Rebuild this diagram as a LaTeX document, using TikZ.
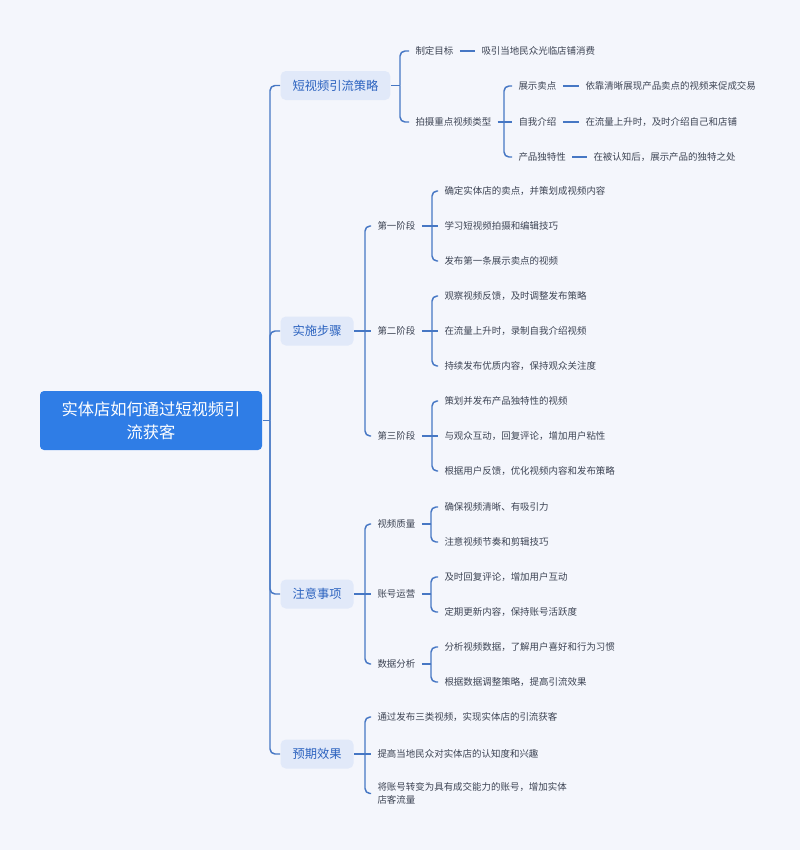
\documentclass[tikz,border=0pt]{standalone}
\usepackage{fontspec}
\setmainfont{Noto Sans CJK SC}

\definecolor{bgcol}{HTML}{F4F6FC}
\definecolor{linkcol}{HTML}{4677C4}
\definecolor{rootcol}{HTML}{2F7DE6}
\definecolor{topicfill}{HTML}{E1E9F9}
\definecolor{topictext}{HTML}{2B62BF}
\definecolor{leafcol}{HTML}{3D4454}

\tikzset{every picture/.style={line width=0.75pt}}
\tikzset{
  rootbox/.style={fill=rootcol, text=white, rounded corners=3pt, minimum width=166.5pt, minimum height=44.25pt, align=center, inner sep=0pt, font=\fontsize{12.2}{17.25}\selectfont},
  topicbox/.style={anchor=west, fill=topicfill, text=topictext, rounded corners=4pt, minimum height=21.75pt, inner xsep=9pt, inner ysep=0pt, text height=8pt, text depth=1.2pt, font=\fontsize{9.2}{11}\selectfont},
  leaf/.style={anchor=west, text=leafcol, inner xsep=4.5pt, inner ysep=1pt, text height=6.1pt, text depth=1pt, font=\fontsize{7.1}{9.75}\selectfont},
  leafwrap/.style={anchor=west, text=leafcol, inner xsep=4.5pt, inner ysep=1pt, align=left, font=\fontsize{7.1}{9.75}\selectfont},
  link/.style={draw=linkcol, line width=1.1pt, rounded corners=3.75pt},
}

\begin{document}
\begin{tikzpicture}[x=0.75pt,y=0.75pt,yscale=-1,xscale=1]
\fill[bgcol] (0,0) rectangle (800,850);
\useasboundingbox (0,0) rectangle (800,850);

% Root Node
\node[rootbox] (root) at (151,420.5) {实体店如何通过短视频引\\流获客};

% Topic Nodes
\node[topicbox] (s1) at (280,85.5) {短视频引流策略};
\node[topicbox] (s2) at (280,331) {实施步骤};
\node[topicbox] (s3) at (280,594) {注意事项};
\node[topicbox] (s4) at (280,754) {预期效果};

% Text Node
\node[leaf] (a1) at (409,51) {制定目标};
\node[leaf] (a11) at (475,51) {吸引当地民众光临店铺消费};
\node[leaf] (a2) at (409,122) {拍摄重点视频类型};
\node[leaf] (b1) at (512,86) {展示卖点};
\node[leaf] (b11) at (579,86) {依靠清晰展现产品卖点的视频来促成交易};
\node[leaf] (b2) at (512,122) {自我介绍};
\node[leaf] (b21) at (579,122) {在流量上升时，及时介绍自己和店铺};
\node[leaf] (b3) at (512,157) {产品独特性};
\node[leaf] (b31) at (587,157) {在被认知后，展示产品的独特之处};

% Text Node
\node[leaf] (c1) at (371,226) {第一阶段};
\node[leaf] (c11) at (438,191) {确定实体店的卖点，并策划成视频内容};
\node[leaf] (c12) at (438,226) {学习短视频拍摄和编辑技巧};
\node[leaf] (c13) at (438,261) {发布第一条展示卖点的视频};
\node[leaf] (c2) at (371,331) {第二阶段};
\node[leaf] (c21) at (438,296) {观察视频反馈，及时调整发布策略};
\node[leaf] (c22) at (438,331) {在流量上升时，录制自我介绍视频};
\node[leaf] (c23) at (438,366) {持续发布优质内容，保持观众关注度};
\node[leaf] (c3) at (371,436) {第三阶段};
\node[leaf] (c31) at (438,401) {策划并发布产品独特性的视频};
\node[leaf] (c32) at (438,436) {与观众互动，回复评论，增加用户粘性};
\node[leaf] (c33) at (438,471) {根据用户反馈，优化视频内容和发布策略};

% Text Node
\node[leaf] (d1) at (371,524) {视频质量};
\node[leaf] (d11) at (438,507) {确保视频清晰、有吸引力};
\node[leaf] (d12) at (438,542) {注意视频节奏和剪辑技巧};
\node[leaf] (d2) at (371,594) {账号运营};
\node[leaf] (d21) at (438,577) {及时回复评论，增加用户互动};
\node[leaf] (d22) at (438,612) {定期更新内容，保持账号活跃度};
\node[leaf] (d3) at (371,664) {数据分析};
\node[leaf] (d31) at (438,647) {分析视频数据，了解用户喜好和行为习惯};
\node[leaf] (d32) at (438,682) {根据数据调整策略，提高引流效果};

% Text Node
\node[leaf] (e1) at (371,717) {通过发布三类视频，实现实体店的引流获客};
\node[leaf] (e2) at (371,754) {提高当地民众对实体店的认知度和兴趣};
\node[leafwrap] (e3) at (371,793.5) {将账号转变为具有成交能力的账号，增加实体\\店客流量};

% Bracket points
\coordinate (trunk) at (270,420.5);
\coordinate (s1b) at (400,85.5);
\coordinate (a2b) at (504,122);
\coordinate (s2b) at (365,331);
\coordinate (c1b) at (432,226);
\coordinate (c2b) at (432,331);
\coordinate (c3b) at (432,436);
\coordinate (s3b) at (365,594);
\coordinate (d1b) at (431,524);
\coordinate (d2b) at (431,594);
\coordinate (d3b) at (431,664);
\coordinate (s4b) at (365,754);

%Straight Lines
\draw[link] (root.east) -- (trunk);
\draw[link] (trunk) |- (s1.west);
\draw[link] (trunk) |- (s2.west);
\draw[link] (trunk) |- (s3.west);
\draw[link] (trunk) |- (s4.west);

%Straight Lines
\draw[link] (s1.east) -- (s1b);
\draw[link] (s1b) |- (a1.west);
\draw[link] (s1b) |- (a2.west);
\draw[link] (a1.east) -- (a11.west);
\draw[link] (a2.east) -- (a2b);
\draw[link] (a2b) |- (b1.west);
\draw[link] (a2b) -- (b2.west);
\draw[link] (a2b) |- (b3.west);
\draw[link] (b1.east) -- (b11.west);
\draw[link] (b2.east) -- (b21.west);
\draw[link] (b3.east) -- (b31.west);

%Straight Lines
\draw[link] (s2.east) -- (s2b);
\draw[link] (s2b) |- (c1.west);
\draw[link] (s2b) -- (c2.west);
\draw[link] (s2b) |- (c3.west);
\draw[link] (c1.east) -- (c1b);
\draw[link] (c1b) |- (c11.west);
\draw[link] (c1b) -- (c12.west);
\draw[link] (c1b) |- (c13.west);
\draw[link] (c2.east) -- (c2b);
\draw[link] (c2b) |- (c21.west);
\draw[link] (c2b) -- (c22.west);
\draw[link] (c2b) |- (c23.west);
\draw[link] (c3.east) -- (c3b);
\draw[link] (c3b) |- (c31.west);
\draw[link] (c3b) -- (c32.west);
\draw[link] (c3b) |- (c33.west);

%Straight Lines
\draw[link] (s3.east) -- (s3b);
\draw[link] (s3b) |- (d1.west);
\draw[link] (s3b) -- (d2.west);
\draw[link] (s3b) |- (d3.west);
\draw[link] (d1.east) -- (d1b);
\draw[link] (d1b) |- (d11.west);
\draw[link] (d1b) |- (d12.west);
\draw[link] (d2.east) -- (d2b);
\draw[link] (d2b) |- (d21.west);
\draw[link] (d2b) |- (d22.west);
\draw[link] (d3.east) -- (d3b);
\draw[link] (d3b) |- (d31.west);
\draw[link] (d3b) |- (d32.west);

%Straight Lines
\draw[link] (s4.east) -- (s4b);
\draw[link] (s4b) |- (e1.west);
\draw[link] (s4b) -- (e2.west);
\draw[link] (s4b) |- (e3.west);

\end{tikzpicture}
\end{document}
